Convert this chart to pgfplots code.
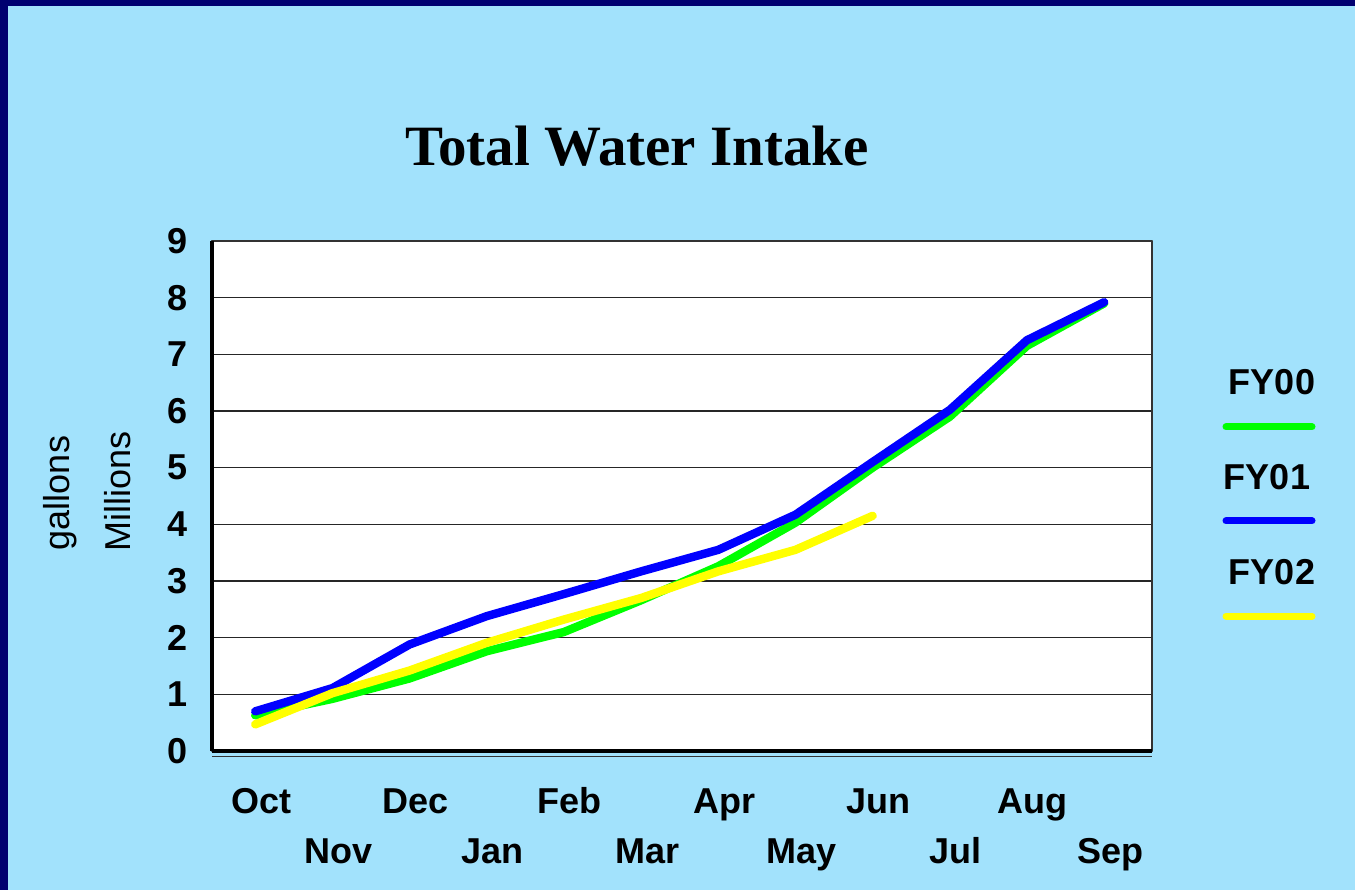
\documentclass[border=0pt]{standalone}
\usepackage{fontspec}
\setmainfont{Liberation Sans}
\newfontfamily\titlefont{Liberation Serif}
\usepackage{pgfplots}
\pgfplotsset{compat=1.18}

\definecolor{bgblue}{RGB}{162,226,252}
\definecolor{navyframe}{RGB}{0,0,112}
\definecolor{fy00}{RGB}{0,255,0}
\definecolor{fy01}{RGB}{0,0,255}
\definecolor{fy02}{RGB}{255,255,0}

\begin{document}
\begin{tikzpicture}
% slide background (1 px = 0.5pt)
\fill[bgblue] (0,0) rectangle (677.5pt,445pt);
\fill[navyframe] (0,442pt) rectangle (677.5pt,445pt);
\fill[navyframe] (0,0) rectangle (4pt,445pt);

\node[font=\titlefont\bfseries\fontsize{28.5}{32}\selectfont] at (318.5pt,372pt) {Total Water Intake};

\begin{axis}[
  at={(106pt,69.5pt)}, anchor=south west,
  width=470pt, height=255pt, scale only axis,
  xmin=-0.56, xmax=11.62,
  ymin=0, ymax=9,
  xtick={0,...,11},
  xticklabels={Oct,\lower25pt\hbox{Nov},Dec,\lower25pt\hbox{Jan},Feb,\lower25pt\hbox{Mar},
               Apr,\lower25pt\hbox{May},Jun,\lower25pt\hbox{Jul},Aug,\lower25pt\hbox{Sep}},
  ytick={0,...,9},
  major tick length=0pt,
  ymajorgrids,
  grid style={black!85, line width=0.6pt},
  axis line style={black!80, line width=0.7pt},
  axis background/.style={fill=white},
  /pgf/number format/assume math mode=true,
  xticklabel style={font=\bfseries\fontsize{18}{20}\selectfont, anchor=base, inner sep=0pt, yshift=-31pt, xshift=3pt},
  yticklabel style={font=\bfseries\fontsize{18}{20}\selectfont, anchor=east, inner sep=0pt, xshift=-12pt},
  line join=round, line cap=round,
]
  \addplot[fy00, line width=4.2pt] coordinates {
    (0,0.63) (1,0.92) (2,1.28) (3,1.76) (4,2.10) (5,2.66)
    (6,3.26) (7,4.03) (8,5.00) (9,5.90) (10,7.15) (11,7.90)};
  \addplot[fy01, line width=4.2pt] coordinates {
    (0,0.70) (1,1.11) (2,1.88) (3,2.38) (4,2.77) (5,3.17)
    (6,3.55) (7,4.17) (8,5.10) (9,6.02) (10,7.25) (11,7.92)};
  \addplot[fy02, line width=4.2pt] coordinates {
    (0,0.47) (1,1.02) (2,1.42) (3,1.91) (4,2.32) (5,2.70)
    (6,3.17) (7,3.55) (8,4.15)};
\end{axis}

% heavy left and bottom axis lines
\draw[black, line width=1.6pt] (106pt,69.5pt) -- (106pt,324.5pt);
\draw[black, line width=2pt] (106pt,69.5pt) -- (576pt,69.5pt);
\draw[black!80, line width=0.5pt] (106pt,67pt) -- (576pt,67pt);

% axis titles
\node[rotate=90, font=\fontsize{18}{20}\selectfont] at (30pt,198.5pt) {gallons};
\node[rotate=90, font=\fontsize{18}{20}\selectfont] at (59pt,199.5pt) {Millions};

% legend
\begin{scope}[font=\bfseries\fontsize{18}{20}\selectfont]
  \node at (636pt,254pt) {FY00};
  \draw[fy00, line width=3.5pt, line cap=round] (613pt,231.5pt) -- (656pt,231.5pt);
  \node at (633.5pt,206.5pt) {FY01};
  \draw[fy01, line width=3.5pt, line cap=round] (613pt,184.5pt) -- (656pt,184.5pt);
  \node at (636pt,159pt) {FY02};
  \draw[fy02, line width=3.5pt, line cap=round] (613pt,137pt) -- (656pt,137pt);
\end{scope}
\end{tikzpicture}
\end{document}
